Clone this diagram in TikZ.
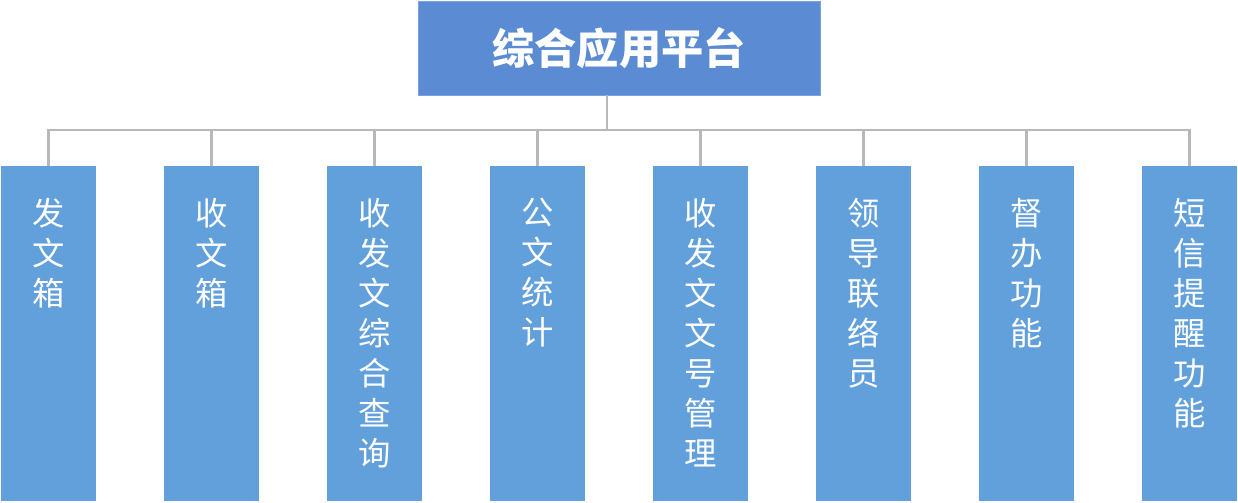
\documentclass[tikz,border=0pt]{standalone}
\usepackage{fontspec}
\newfontfamily\cjk{Noto Sans CJK SC}
\usepackage{tikz}
\usetikzlibrary{positioning}
\definecolor{topblue}{HTML}{5A8BD3}
\definecolor{subblue}{HTML}{62A0DB}
\definecolor{linegray}{HTML}{B8B8B8}

\begin{document}
\begin{tikzpicture}[x=0.025cm, y=-0.025cm,
                root/.style={rectangle, fill=topblue, draw=topblue!80!white,
                        minimum width=10.05cm, minimum height=2.35cm,
                        text=white, font={\cjk\bfseries\fontsize{30}{36}\selectfont}},
                sub/.style={rectangle, fill=subblue, inner sep=0pt,
                        minimum width=2.375cm, minimum height=8.375cm},
                lbl/.style={inner sep=0pt, text=white, align=center,
                        font={\cjk\fontsize{23}{28.5}\selectfont}},
                link/.style={draw=linegray, line width=1.8pt}]
        \useasboundingbox (0,0) rectangle (1238,502);
        %----------------  顶层  ----------------
        \node[root] (top) at (619,48) {综合应用平台};
        \coordinate (hub) at (607,130);

        %----------------  子模块  ----------------
        \node[sub] (b1) at (48.5,333.5) {};
        \node[sub] (b2) at (211.5,333.5) {};
        \node[sub] (b3) at (374.5,333.5) {};
        \node[sub] (b4) at (537.5,333.5) {};
        \node[sub] (b5) at (700.5,333.5) {};
        \node[sub] (b6) at (863.5,333.5) {};
        \node[sub] (b7) at (1026.5,333.5) {};
        \node[sub] (b8) at (1189.5,333.5) {};

        \node[lbl, below=0.8cm of b1.north] (t1) {发\\文\\箱};
        \node[lbl, below=0.8cm of b2.north] (t2) {收\\文\\箱};
        \node[lbl, below=0.8cm of b3.north] (t3) {收\\发\\文\\综\\合\\查\\询};
        \node[lbl, below=0.8cm of b4.north] (t4) {公\\文\\统\\计};
        \node[lbl, below=0.8cm of b5.north] (t5) {收\\发\\文\\文\\号\\管\\理};
        \node[lbl, below=0.8cm of b6.north] (t6) {领\\导\\联\\络\\员};
        \node[lbl, below=0.8cm of b7.north] (t7) {督\\办\\功\\能};
        \node[lbl, below=0.8cm of b8.north] (t8) {短\\信\\提\\醒\\功\\能};

        %----------------  连线  ----------------
        \draw[link] (top.south -| hub) -- (hub);
        \draw[link] (b1.north) |- (hub);
        \draw[link] (b2.north) |- (hub);
        \draw[link] (b3.north) |- (hub);
        \draw[link] (b4.north) |- (hub);
        \draw[link] (b5.north) |- (hub);
        \draw[link] (b6.north) |- (hub);
        \draw[link] (b7.north) |- (hub);
        \draw[link] (b8.north) |- (hub);
\end{tikzpicture}
\end{document}
